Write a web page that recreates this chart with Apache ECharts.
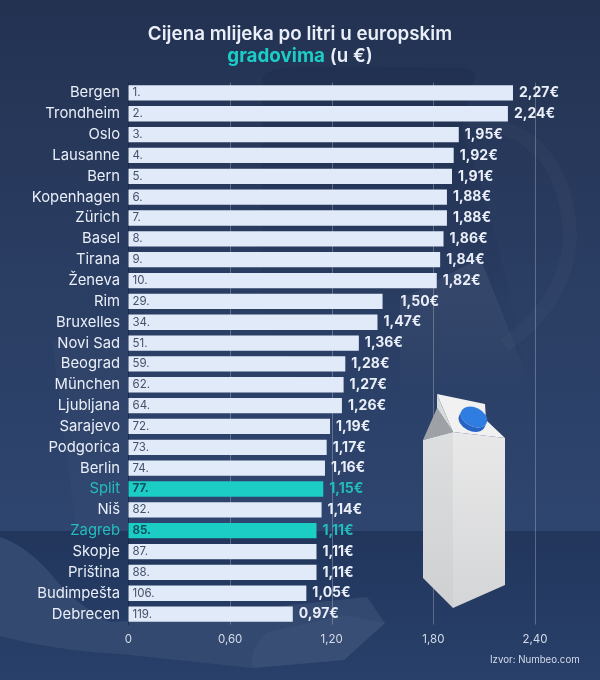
<!DOCTYPE html>
<html>
<head>
<meta charset="utf-8">
<style>
html, body { margin: 0; padding: 0; background: #233353; }
#main { width: 600px; height: 680px; }
</style>
<script src="https://cdn.jsdelivr.net/npm/echarts@6/dist/echarts.min.js"></script>
</head>
<body>
<div id="main"></div>
<script>
var cities = ['Bergen', 'Trondheim', 'Oslo', 'Lausanne', 'Bern', 'Kopenhagen', 'Zürich', 'Basel', 'Tirana', 'Ženeva', 'Rim', 'Bruxelles', 'Novi Sad', 'Beograd', 'München', 'Ljubljana', 'Sarajevo', 'Podgorica', 'Berlin', 'Split', 'Niš', 'Zagreb', 'Skopje', 'Priština', 'Budimpešta', 'Debrecen'];
var ranks = [1, 2, 3, 4, 5, 6, 7, 8, 9, 10, 29, 34, 51, 59, 62, 64, 72, 73, 74, 77, 82, 85, 87, 88, 106, 119];
var prices = [2.27, 2.24, 1.95, 1.92, 1.91, 1.88, 1.88, 1.86, 1.84, 1.82, 1.50, 1.47, 1.36, 1.28, 1.27, 1.26, 1.19, 1.17, 1.16, 1.15, 1.14, 1.11, 1.11, 1.11, 1.05, 0.97];
var highlighted = ['Split', 'Zagreb'];

var TEAL = '#1ccdc6', TEAL_TEXT = '#22bdbb', BAR = '#e1eaf8', TEXT = '#e9eef8';

function isHi(name) { return highlighted.indexOf(name) >= 0; }
function price(v) { return v.toFixed(2).replace('.', ',') + '€'; }
function vGrad(a, b) { return new echarts.graphic.LinearGradient(0, 0, 0, 1, [{ offset: 0, color: a }, { offset: 1, color: b }]); }

// graphic komponenta nema 'path' pa se oblici registriraju
var shapeNo = 0;
function bgPath(d, z, style, extra) {
	var name = 'bgShape' + (shapeNo++);
	echarts.graphic.registerShape(name, echarts.graphic.extendPath(d, {}));
	var el = { type: name, z: z, style: style };
	for (var k in extra) el[k] = extra[k];
	return el;
}

var chart = echarts.init(document.getElementById('main'));

// pozadina: vrč, stol, salveta i tetrapak
var backdrop = [
	{ type: 'rect', z: -10, shape: { x: 0, y: 0, width: 600, height: 680 },
		style: { fill: new echarts.graphic.LinearGradient(0, 0, 0, 1, [
			{ offset: 0, color: '#233251' }, { offset: 0.4, color: '#2a3d62' }, { offset: 0.78, color: '#2e456f' }, { offset: 1, color: '#2e456f' }
		]) } },
	// vrč
	bgPath('M262 80 Q262 68 300 66 L465 68 Q482 72 470 88 L462 130 Q500 230 530 395 L300 395 L262 300 Z', -9, { fill: vGrad('rgba(12,22,48,0.14)', 'rgba(12,22,48,0)') }),
	bgPath('M480 258 Q510 330 527 380 L520 395 L400 395 L400 300 Z', -9, { fill: vGrad('rgba(255,255,255,0.07)', 'rgba(255,255,255,0)') }),
	bgPath('M470 120 Q565 130 570 235 Q568 300 505 345', -9, { fill: 'none', stroke: 'rgba(255,255,255,0.025)', lineWidth: 14 }),
	// čaša lijevo
	bgPath('M52 340 L130 340 L130 560 L80 560 Z', -9, { fill: 'rgba(255,255,255,0.02)' }),
	// stol
	{ type: 'rect', z: -8, shape: { x: 0, y: 531, width: 600, height: 149 }, style: { fill: vGrad('#22365c', '#28406a') } },
	// salveta
	bgPath('M0 537 Q25 545 50 573 Q75 605 110 622 L210 618 L290 605 L367 597 L385 623 L344 660 L252 668 L130 655 Q50 650 0 636 Z', -7, { fill: '#34496f' }),
	bgPath('M252 668 Q250 645 268 632 L345 615 L385 623 L344 660 Z', -6, { fill: '#394e75' }),
	// tetrapak
	bgPath('M437 394 L485 404 L486 420 L505 438 L453 432 Z', 20, { fill: '#f1f1f2' }),
	bgPath('M437 408 L423 440 L453 432 Z', 20, { fill: '#9ea1a6' }),
	bgPath('M437 394 L437 408 L453 432 Z', 20, { fill: '#d9dadc' }),
	bgPath('M423 440 L453 432 L453 608 L423 578 Z', 20, { fill: vGrad('#dddee0', '#cfd0d2') }),
	bgPath('M453 432 L505 438 L505 585 L453 608 Z', 20, { fill: vGrad('#e9e9ea', '#d4d5d6') }),
	bgPath('M-14 0 a14 9.5 0 1 0 28 0 l0 5 a14 9.5 0 1 1 -28 0 Z', 21, { fill: '#2563c4' }, { x: 474, y: 417, rotation: -0.45 }),
	bgPath('M-14 0 a14 9.5 0 1 0 28 0 a14 9.5 0 1 0 -28 0 Z', 22, { fill: '#2f7de0' }, { x: 474, y: 417, rotation: -0.45 })
];

chart.setOption({
	animation: false,
	backgroundColor: '#233353',
	title: {
		left: 295, top: 18, textAlign: 'center',
		text: '{w|Cijena mlijeka po litri u europskim}\n{t|gradovima}{w| (u €)}',
		textStyle: {
			rich: {
				w: { fontFamily: 'Inter', fontSize: 18.8, fontWeight: 600, color: TEXT, lineHeight: 22 },
				t: { fontFamily: 'Inter', fontSize: 18.8, fontWeight: 700, color: TEAL, lineHeight: 22 }
			}
		}
	},
	grid: { left: 128.5, top: 82.5, width: 406.5, height: 542 },
	xAxis: {
		type: 'value', min: 0, max: 2.4, interval: 0.6,
		axisLine: { show: false }, axisTick: { show: false },
		splitLine: { lineStyle: { color: 'rgba(255,255,255,0.25)', width: 1 } },
		axisLabel: {
			margin: 9, fontFamily: 'Inter', fontSize: 11.5, color: '#d5dcea',
			formatter: function(v){ return v === 0 ? '0' : v.toFixed(2).replace('.', ','); }
		}
	},
	yAxis: {
		type: 'category', inverse: true, data: cities,
		axisLine: { lineStyle: { color: '#1c2a47', width: 1 } }, axisTick: { show: false },
		axisLabel: {
			margin: 8.5, fontFamily: 'Inter', fontSize: 14.8, interval: 0,
			color: function(name){ return isHi(name) ? TEAL_TEXT : TEXT; }
		}
	},
	series: [{
		name: 'Rank', type: 'bar', barWidth: 15.3, barGap: '-100%', z: 3,
		data: prices.map(function(v, i){
			var hi = isHi(cities[i]);
			return {
				value: v,
				itemStyle: { color: hi ? TEAL : BAR },
				label: { color: hi ? '#12505e' : '#44506a', fontWeight: hi ? 700 : 400 }
			};
		}),
		label: {
			show: true, position: 'insideLeft', distance: 4, fontFamily: 'Inter', fontSize: 11.5,
			formatter: function(p){ return ranks[p.dataIndex] + '.'; }
		}
	}, {
		name: 'Cijena', type: 'bar', barWidth: 15.3, barGap: '-100%', z: 2,
		itemStyle: { color: 'transparent' },
		data: prices.map(function(v, i){
			return {
				value: v,
				label: { color: isHi(cities[i]) ? TEAL_TEXT : TEXT, distance: cities[i] === 'Rim' ? 18 : 6 }
			};
		}),
		label: {
			show: true, position: 'right', fontFamily: 'Inter', fontSize: 14, fontWeight: 700,
			formatter: function(p){ return price(p.value); }
		}
	}],
	graphic: backdrop.concat([{
		type: 'text', left: 490, top: 655, z: 5,
		style: { text: 'Izvor: Numbeo.com', fontFamily: 'Inter', fontSize: 9.7, fill: '#d5dcea' }
	}])
});
</script>
</body>
</html>
